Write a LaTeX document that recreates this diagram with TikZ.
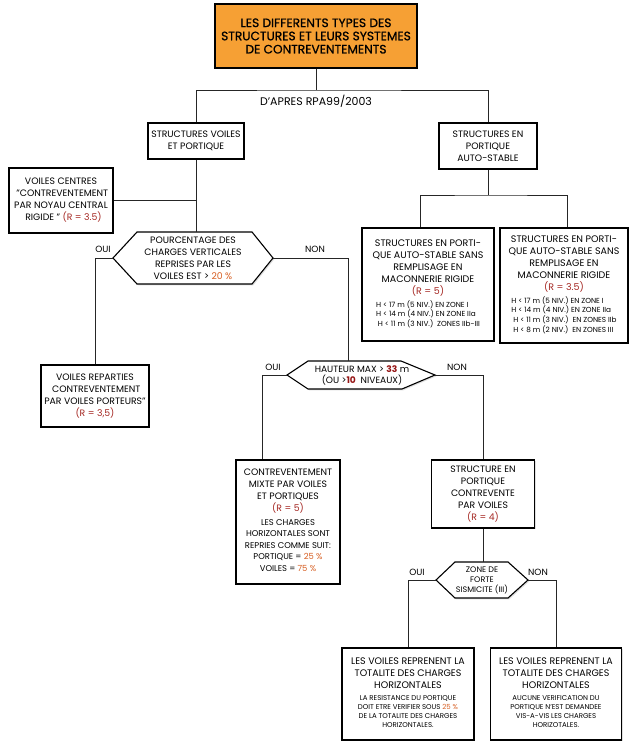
\documentclass[tikz,border=0pt]{standalone}
\usepackage{fontspec}
\setmainfont{Poppins}
\newfontfamily\titlef[FakeBold=0.8]{Poppins}
\usetikzlibrary{shadows}
\definecolor{torange}{RGB}{246,160,52}
\definecolor{rval}{RGB}{165,40,35}
\definecolor{pct}{RGB}{215,95,35}
\definecolor{numred}{RGB}{150,20,20}
\newcommand\szT{\fontsize{12.2}{13.2}\selectfont}
\newcommand\szA{\fontsize{9.3}{12}\selectfont}
\newcommand\szH{\fontsize{9.5}{12}\selectfont}
\newcommand\szB{\fontsize{8.4}{11.5}\selectfont}
\newcommand\szC{\fontsize{7}{9}\selectfont}
\newcommand\szD{\fontsize{7.3}{9.4}\selectfont}
\newcommand\szE{\fontsize{8}{10}\selectfont}
\newcommand\szL{\fontsize{9}{10}\selectfont}
\newcommand\rv[1]{\textcolor{rval}{#1}}
\newcommand\pc[1]{\textcolor{pct}{#1}}
\begin{document}
\begin{tikzpicture}[x=1pt,y=-1pt,
  box/.style={draw=black, line width=1.1pt, fill=white, align=center, inner sep=1pt,
    drop shadow={shadow xshift=1.3pt, shadow yshift=-1.3pt, opacity=0.25}},
  hexa/.style={draw=black, line width=1.1pt, fill=white,
    drop shadow={shadow xshift=1.3pt, shadow yshift=-1.3pt, opacity=0.25}},
  link/.style={line width=0.9pt, black!85},
  lbl/.style={font=\szL, inner sep=0pt}]
\useasboundingbox (0,0) rectangle (635,750);
\fill[white] (0,0) rectangle (635,750);

% title
\node[box, fill=torange, font={\titlef\szT}, minimum width=202pt, minimum height=64pt] (t) at (316,36)
  {LES DIFFERENTS TYPES DES\\STRUCTURES ET LEURS SYSTEMES\\DE CONTREVENTEMENTS};
\node[lbl, font=\fontsize{11}{12}\selectfont] (src) at (316,101) {D'APRES RPA99/2003};

% boxes
\node[box, font=\szA, minimum width=96pt, minimum height=36pt] (b1) at (196,141)
  {STRUCTURES VOILES\\ET PORTIQUE};
\node[box, font=\szA, minimum width=98pt, minimum height=46pt] (b2) at (488,146)
  {STRUCTURES EN\\PORTIQUE\\AUTO-STABLE};
\node[box, font=\szA, minimum width=104pt, minimum height=65pt] (b3) at (61,200.5)
  {VOILES CENTRES\\\ "CONTREVENTEMENT\\PAR NOYAU CENTRAL\\\ \ RIGIDE " \rv{(R = 3.5)}};
\node[box, font=\szA, minimum width=108pt, minimum height=62pt] (b4) at (95,396)
  {VOILES REPARTIES\\\ CONTREVENTEMENT\\PAR VOILES PORTEURS"\\\rv{(R = 3,5)}};
\node[box, font=\szA, minimum width=104pt, minimum height=124pt] (b5) at (288,522)
  {CONTREVENTEMENT\\MIXTE PAR VOILES\\ET PORTIQUES\\\rv{(R = 5)}\\[3pt]
   {\szB\begin{tabular}{@{}c@{}}
   LES CHARGES\\HORIZONTALES SONT\\REPRIES COMME SUIT:\\
   PORTIQUE = \pc{25 \%}\\VOILES = \pc{75 \%}
   \end{tabular}}};
\node[box, font=\szA, minimum width=103pt, minimum height=68pt] (b6) at (483,494)
  {STRUCTURE EN\\PORTIQUE\\CONTREVENTE\\PAR VOILES\\\rv{(R = 4)}};
\node[box, font=\szH, minimum width=132pt, minimum height=92pt] (b7) at (408,694)
  {LES VOILES REPRENENT LA\\TOTALITE DES CHARGES\\HORIZONTALES\\[4pt]
   {\szC\begin{tabular}{@{}c@{}}
   LA RESISTANCE DU PORTIQUE\\DOIT ETRE VERIFIER SOUS \pc{25 \%}\\
   DE LA TOTALITE DES CHARGES\\HORIZONTALES.
   \end{tabular}}};
\node[box, font=\szH, minimum width=131pt, minimum height=92pt] (b8) at (556,694)
  {LES VOILES REPRENENT LA\\TOTALITE DES CHARGES\\HORIZONTALES\\[4pt]
   {\szC\begin{tabular}{@{}c@{}}
   AUCUNE VERIFICATION DU\\PORTIQUE N'EST DEMANDEE\\
   VIS-A-VIS LES CHARGES\\HORIZOTALES.
   \end{tabular}}};
\node[box, font=\szH, minimum width=132pt, minimum height=113pt] (b9) at (428,284.5)
  {STRUCTURES EN PORTI-\\QUE AUTO-STABLE SANS\\REMPLISAGE EN\\MACONNERIE RIGIDE\\\rv{(R = 5)}\\[3pt]
   {\szD\begin{tabular}{@{}l@{}}
   H < 17 m (5 NIV.) EN ZONE I\\
   H < 14 m (4 NIV.) EN ZONE IIa\\
   \ H < 11 m (3 NIV.) \ ZONES IIb-III
   \end{tabular}}};
\node[box, font=\szH, minimum width=128pt, minimum height=115pt] (b10) at (564,285.5)
  {STRUCTURES EN PORTI-\\QUE AUTO-STABLE SANS\\REMPLISAGE EN\\MACONNERIE RIGIDE\\\rv{(R = 3.5)}\\[3pt]
   {\szD\begin{tabular}{@{}l@{}}
   H < 17 m (5 NIV.) EN ZONE I\\
   H < 14 m (4 NIV.) EN ZONE IIa\\
   \ H < 11 m (3 NIV.) \ EN ZONES IIb\\
   \ H < 8 m (2 NIV.) \ EN ZONES III
   \end{tabular}}};

% hexagon 1
\coordinate (h1w) at (113,258);
\coordinate (h1e) at (273,258);
\coordinate (h1n) at (196,232);
\path[hexa] (h1w) -- (137,232) -- (252,232) -- (h1e) -- (252,284) -- (137,284) -- cycle;
\node[font=\szA, align=center, inner sep=0pt] (h1) at (193,258.5)
  {POURCENTAGE DES\\CHARGES VERTICALES\\REPRISES PAR LES\\VOILES EST > \pc{20 \%}};
% hexagon 2
\coordinate (h2w) at (287,375);
\coordinate (h2e) at (435,375);
\coordinate (h2n) at (348,361);
\path[hexa] (h2w) -- (308,361) -- (401,361) -- (h2e) -- (402,389) -- (308,389) -- cycle;
\node[font=\fontsize{9.1}{11}\selectfont, align=center, inner sep=0pt] (h2) at (362,375.5)
  {HAUTEUR MAX > \textcolor{numred}{\textbf{33}} m\\(OU >\textcolor{numred}{\textbf{10}} \ NIVEAUX)};
% hexagon 3
\coordinate (h3w) at (436,580);
\coordinate (h3e) at (528,580);
\coordinate (h3n) at (483,562);
\path[hexa] (h3w) -- (455,562) -- (508,562) -- (h3e) -- (508,598) -- (455,598) -- cycle;
\node[font=\szE, align=center, inner sep=0pt] (h3) at (482,580.5)
  {ZONE DE\\FORTE\\SISMICITE (III)};

% connectors
\coordinate (j0) at (316,90);
\draw[link] (t.south) -- (j0);
\draw[link] (b1.north) |- (j0) -| (b2.north);
\draw[link] (b1.south) -- (h1n);
\draw[link] (b3.east) -- (b3.east -| b1.south);
\draw[link] (h1w) -| (b4.north);
\draw[link] (h1e) -| (h2n);
\draw[link] (h2w) -| ([xshift=27pt]b5.north west);
\draw[link] (h2e) -| (b6.north);
\draw[link] (b6.south) -- (h3n);
\draw[link] (h3w) -| (b7.north);
\draw[link] (h3e) -| (b8.north);
\coordinate (j2) at (488,195);
\draw[link] (b2.south) -- (j2);
\draw[link] ([xshift=-8pt]b9.north) |- (j2) -| ([xshift=3pt]b10.north);

% labels
\node[lbl] (o1) at (103,249) {OUI};
\node[lbl] (n1) at (315,249) {NON};
\node[lbl] (o2) at (273,367) {OUI};
\node[lbl] (n2) at (457,367) {NON};
\node[lbl] (o3) at (417,572) {OUI};
\node[lbl] (n3) at (538,572) {NON};
\end{tikzpicture}
\end{document}
